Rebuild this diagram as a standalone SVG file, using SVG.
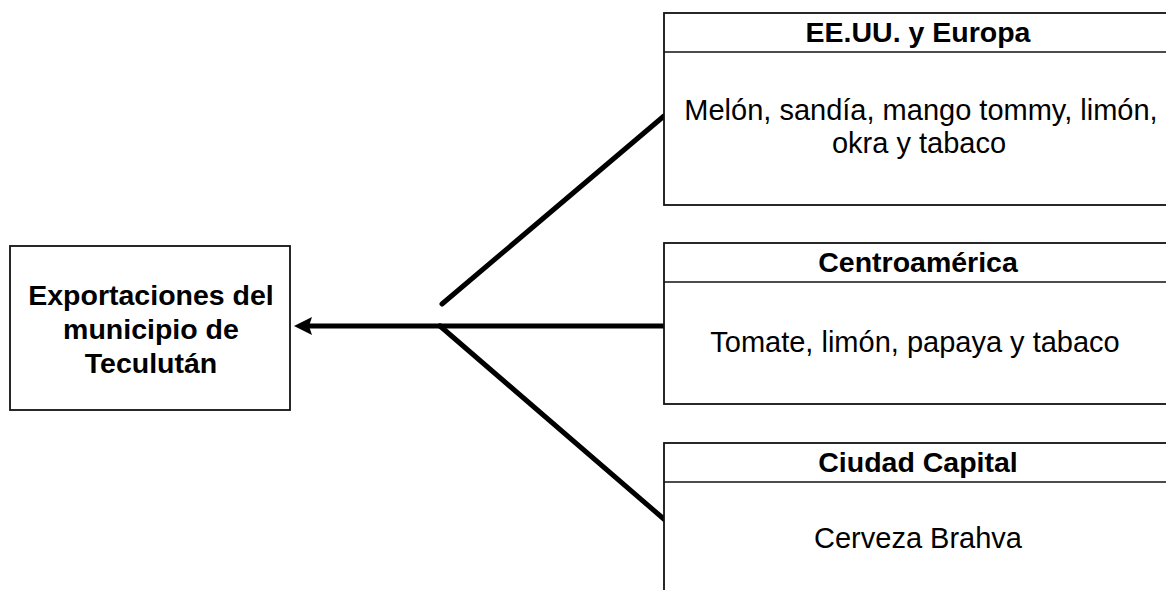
<svg xmlns="http://www.w3.org/2000/svg" width="1166" height="590" viewBox="0 0 1166 590">
  <style>
    .box { fill: #ffffff; stroke: #111111; stroke-width: 1.8; }
    .div { stroke: #111111; stroke-width: 1.6; }
    .conn { stroke: #000000; stroke-width: 5; stroke-linecap: round; fill: none; }
    .t { font-family: "Liberation Sans", Arial, sans-serif; fill: #000000; text-anchor: middle; }
    .b { font-weight: bold; }
    .main { font-size: 28.5px; }
    .body { font-size: 29px; }
  </style>
  <defs>
    <marker id="arrow" viewBox="0 0 18 18" refX="6" refY="9" markerWidth="18" markerHeight="18" markerUnits="userSpaceOnUse" orient="auto">
      <path d="M0,0 L18,9 L0,18 L3,9 Z" fill="#000000"/>
    </marker>
  </defs>

  <g id="connectors">
    <path class="conn" d="M440,326 L306,326" stroke-linecap="butt" marker-end="url(#arrow)"/>
    <line class="conn" x1="440" y1="326" x2="665" y2="326"/>
    <line class="conn" x1="442" y1="304" x2="664" y2="116"/>
    <line class="conn" x1="440" y1="326" x2="665" y2="520"/>
  </g>

  <g id="node-teculutan">
    <rect class="box" x="10" y="246" width="280" height="164"/>
    <text class="t b main" x="151" y="305">Exportaciones del</text>
    <text class="t b main" x="151" y="339">municipio de</text>
    <text class="t b main" x="151" y="373">Teculután</text>
  </g>

  <g id="node-eeuu-europa">
    <rect class="box" x="664" y="13" width="520" height="192"/>
    <line class="div" x1="664" y1="52" x2="1170" y2="52"/>
    <text class="t b main" x="918" y="42">EE.UU. y Europa</text>
    <text class="t body" x="921" y="120">Melón, sandía, mango tommy, limón,</text>
    <text class="t body" x="919" y="153">okra y tabaco</text>
  </g>

  <g id="node-centroamerica">
    <rect class="box" x="664" y="243" width="520" height="161"/>
    <line class="div" x1="664" y1="282" x2="1170" y2="282"/>
    <text class="t b main" x="918" y="272">Centroamérica</text>
    <text class="t body" x="915" y="352">Tomate, limón, papaya y tabaco</text>
  </g>

  <g id="node-ciudad-capital">
    <rect class="box" x="664" y="443" width="520" height="170"/>
    <line class="div" x1="664" y1="482" x2="1170" y2="482"/>
    <text class="t b main" x="918" y="472">Ciudad Capital</text>
    <text class="t body" x="918" y="548">Cerveza Brahva</text>
  </g>
</svg>
